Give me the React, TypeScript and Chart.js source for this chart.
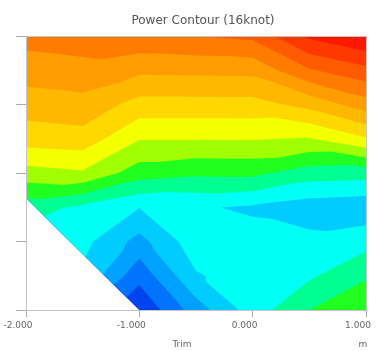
import { useEffect, useRef } from "react";
import { Chart, registerables } from "chart.js";

Chart.register(...registerables);

// Trim (x) columns and draft (y) rows of the sampled power field
const trimValues = [-2, -1.5, -1, -0.5, 0, 0.5, 1];
const draftRows = [0, 0.5, 1, 1.5, 2, 2.5, 3, 3.5, 4];

// Power level (contour units) per draft row, bottom -> top, one value per trim column
const power0 = [3.0, 2.0, 0.1, 2.48, 4.48, 6.0, 6.9];
const power1 = [3.8, 3.8, 1.33, 3.9, 4.5, 4.85, 5.88];
const power2 = [4.6, 4.3, 2.65, 4.6, 4.4, 4.3, 4.64];
const power3 = [5.4, 4.8, 4.03, 4.12, 3.85, 3.45, 3.3];
const power4 = [7.6, 7.85, 6.5, 6.2, 6.24, 5.5, 5.4];
const power5 = [9.45, 9.6, 8.05, 8.05, 8.06, 7.94, 8.9];
const power6 = [10.5, 10.66, 9.63, 9.63, 9.64, 10.32, 11.53];
const power7 = [11.45, 11.62, 11.2, 11.25, 11.29, 12.9, 13.72];
const power8 = [12.4, 12.6, 12.8, 13.0, 13.25, 15.2, 16.0];

// Outline of the measured domain (bottom-left corner has no data)
const hullTrim = [-2, 1, 1, -1, -2];
const hullDraft = [4, 4, 0, 0, 1.635];

// Colour of each contour band, lowest -> highest
const bandColors = [
  "#0044F0",
  "#0074FF",
  "#00A2FF",
  "#00CCFF",
  "#00FFF4",
  "#00FF90",
  "#20FF20",
  "#A0FF00",
  "#F4FF00",
  "#FFD800",
  "#FFB800",
  "#FF9C00",
  "#FF7C00",
  "#FF5A00",
  "#FF3800",
  "#FF1800",
];

const xTicks = [-2, -1, 0, 1];
const titleText = "Power Contour (16knot)";
const xTitle = "Trim";
const xUnit = "m";

type P = { x: number; y: number; f: number };

function clipAbove(poly: P[], t: number): P[] {
  const out: P[] = [];
  for (let i = 0; i < poly.length; i++) {
    const a = poly[i];
    const b = poly[(i + 1) % poly.length];
    const ain = a.f >= t;
    const bin = b.f >= t;
    if (ain) out.push(a);
    if (ain !== bin) {
      const s = (t - a.f) / (b.f - a.f);
      out.push({ x: a.x + (b.x - a.x) * s, y: a.y + (b.y - a.y) * s, f: t });
    }
  }
  return out;
}

const contourPlugin = {
  id: "contourBands",
  beforeDatasetsDraw(chart: any) {
    const { ctx, chartArea, scales } = chart;
    const xs = scales.x;
    const ys = scales.y;
    const grid = [power0, power1, power2, power3, power4, power5, power6, power7, power8];
    const tris: P[][] = [];
    const node = (i: number, j: number): P => ({
      x: xs.getPixelForValue(trimValues[i]),
      y: ys.getPixelForValue(draftRows[j]),
      f: grid[j][i],
    });
    for (let j = 0; j < draftRows.length - 1; j++) {
      for (let i = 0; i < trimValues.length - 1; i++) {
        const a = node(i, j);
        const b = node(i + 1, j);
        const c = node(i + 1, j + 1);
        const d = node(i, j + 1);
        if (Math.abs(a.f - c.f) <= Math.abs(b.f - d.f)) {
          tris.push([a, b, c], [a, c, d]);
        } else {
          tris.push([a, b, d], [b, c, d]);
        }
      }
    }
    ctx.save();
    ctx.beginPath();
    hullTrim.forEach((t, k) => {
      const px = xs.getPixelForValue(t);
      const py = ys.getPixelForValue(hullDraft[k]);
      if (k === 0) ctx.moveTo(px, py);
      else ctx.lineTo(px, py);
    });
    ctx.closePath();
    ctx.clip();
    ctx.fillStyle = bandColors[0];
    ctx.fillRect(chartArea.left, chartArea.top, chartArea.width, chartArea.height);
    for (let k = 1; k < bandColors.length; k++) {
      ctx.beginPath();
      for (const tri of tris) {
        const poly = clipAbove(tri, k);
        if (poly.length < 3) continue;
        ctx.moveTo(poly[0].x, poly[0].y);
        for (let q = 1; q < poly.length; q++) ctx.lineTo(poly[q].x, poly[q].y);
        ctx.closePath();
      }
      ctx.fillStyle = bandColors[k];
      ctx.fill();
    }
    ctx.restore();

    ctx.save();
    ctx.strokeStyle = "#c4c4c4";
    ctx.lineWidth = 1;
    ctx.strokeRect(
      Math.round(chartArea.left) + 0.5,
      Math.round(chartArea.top) + 0.5,
      Math.round(chartArea.width),
      Math.round(chartArea.height)
    );
    ctx.restore();
  },
  afterDraw(chart: any) {
    const { ctx, chartArea } = chart;
    ctx.save();
    ctx.fillStyle = "#555";
    ctx.textAlign = "center";
    ctx.textBaseline = "middle";
    ctx.font = "12px 'DejaVu Sans'";
    ctx.fillText(titleText, (chartArea.left + chartArea.right) / 2 + 7, 21);
    ctx.fillStyle = "#666";
    ctx.font = "9px 'DejaVu Sans'";
    ctx.fillText(xTitle, (chartArea.left + chartArea.right) / 2 - 14, 345);
    ctx.fillText(xUnit, chartArea.right - 3, 345);
    ctx.restore();
  },
};

export default function App() {
  const canvasRef = useRef<HTMLCanvasElement | null>(null);

  useEffect(() => {
    if (!canvasRef.current) return;
    const chart = new Chart(canvasRef.current, {
      type: "scatter",
      data: { datasets: [{ data: [] }] },
      options: {
        animation: false,
        responsive: false,
        events: [],
        layout: { padding: { left: 16, right: 12, top: 36, bottom: 17 } },
        plugins: {
          legend: { display: false },
          tooltip: { enabled: false },
          title: { display: false },
        },
        scales: {
          x: {
            type: "linear",
            min: -2,
            max: 1,
            afterBuildTicks: (s: any) => {
              s.ticks = xTicks.map((v) => ({ value: v }));
            },
            afterFit: (s: any) => {
              s.paddingLeft = 0;
              s.paddingRight = 0;
            },
            ticks: {
              callback: (v: any) => Number(v).toFixed(3),
              font: { size: 9, family: "'DejaVu Sans'" },
              color: "#666",
              padding: 3,
              labelOffset: -8,
              maxRotation: 0,
              autoSkip: false,
            },
            grid: { drawOnChartArea: false, drawTicks: true, tickLength: 7, color: "#aaa" },
            border: { display: false },
          },
          y: {
            type: "linear",
            min: 0,
            max: 4,
            ticks: { display: false, stepSize: 1 },
            grid: { drawOnChartArea: false, drawTicks: true, tickLength: 10, color: "#aaa" },
            border: { display: false },
          },
        },
      },
      plugins: [contourPlugin],
    });
    return () => chart.destroy();
  }, []);

  return (
    <div style={{ position: "fixed", left: 0, top: 0, width: 378, height: 351, background: "#fff" }}>
      <canvas ref={canvasRef} width={378} height={351} />
    </div>
  );
}
